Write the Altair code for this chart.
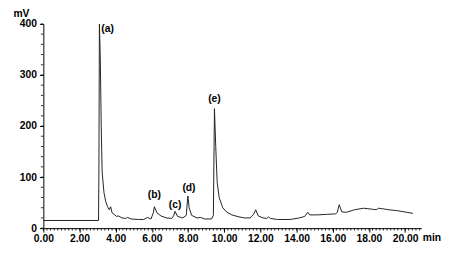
import altair as alt
import pandas as pd

# chromatogram trace (time in min, signal in mV)
time = [0.0, 3.05, 3.07, 3.10, 3.15, 3.20, 3.25, 3.35, 3.45, 3.55, 3.65, 3.72, 3.8, 3.95, 4.05, 4.15, 4.35,
        4.55, 4.65, 4.85, 5.25, 5.55, 5.75, 5.95, 6.08, 6.14, 6.28, 6.5, 6.8, 7.1, 7.2, 7.28, 7.42, 7.7,
        7.9, 7.99, 8.06, 8.2, 8.5, 8.7, 8.9, 9.3, 9.4, 9.46, 9.53, 9.61, 9.72, 9.92, 10.12, 10.42,
        10.82, 11.12, 11.42, 11.52, 11.62, 11.74, 11.88, 12.15, 12.35, 12.45, 12.55, 12.95, 13.65, 14.15,
        14.45, 14.62, 14.72, 15.15, 15.65, 16.15, 16.25, 16.36, 16.5, 16.75, 17.2, 17.7, 18.2, 18.4,
        18.53, 18.75, 19.1, 19.6, 20.1, 20.43]
signal = [15, 15, 100, 400, 330, 200, 110, 70, 52, 42, 36, 42, 30, 26, 23, 24, 20,
          19, 21, 18, 17, 17, 21, 18, 30, 42, 30, 24, 20, 19, 24, 33, 23, 20,
          25, 63, 40, 25, 20, 21, 18, 18, 25, 234, 160, 90, 60, 40, 32, 26,
          22, 20, 20, 23, 27, 36, 24, 20, 19, 22, 19, 17, 17, 20,
          23, 31, 26, 26, 27, 28, 31, 46, 32, 31, 36, 39, 37, 36,
          39, 38, 36, 34, 31, 29]

# peak labels
peak_labels = ["(a)", "(b)", "(c)", "(d)", "(e)"]
peak_time = [3.55, 6.14, 7.28, 8.05, 9.46]
peak_y = [390, 65, 46, 79, 252]

x_ticks = [0, 2, 4, 6, 8, 10, 12, 14, 16, 18, 20]
y_ticks = [0, 100, 200, 300, 400]
x_minor = [round(i * 0.2, 1) for i in range(0, 105)]
y_minor = [i * 20 for i in range(0, 21)]

W, H = 385, 208
FONT = "Liberation Sans"

trace = pd.DataFrame({"t": time, "mv": signal})
labels = pd.DataFrame({"lab": peak_labels, "t": peak_time, "mv": peak_y})
xm = pd.DataFrame({"t": x_minor})
ym = pd.DataFrame({"mv": y_minor})

xscale = alt.Scale(domain=[0, 20.9], nice=False, zero=False)
yscale = alt.Scale(domain=[0, 400], nice=False)

xaxis = alt.Axis(values=x_ticks, format=".2f", title="min", grid=False,
                 labelOverlap=False, labelFlush=False, labelBound=False,
                 domainColor="black", tickColor="black", tickSize=4,
                 labelFont=FONT, labelFontWeight="bold", labelFontSize=10.5,
                 labelColor="black", labelPadding=2,
                 titleFont=FONT, titleFontWeight="bold", titleFontSize=10.5,
                 titleAlign="left", titleBaseline="top", titleX=386, titleY=5,
                 titleColor="black")
yaxis = alt.Axis(values=y_ticks, title="mV", grid=False,
                 labelOverlap=False, labelFlush=False,
                 domainColor="black", tickColor="black", tickSize=4,
                 labelFont=FONT, labelFontWeight="bold", labelFontSize=10.5,
                 labelColor="black", labelPadding=3,
                 titleFont=FONT, titleFontWeight="bold", titleFontSize=10.5,
                 titleAngle=0, titleAlign="left", titleBaseline="bottom",
                 titleX=-31, titleY=-6, titleColor="black")

line = alt.Chart(trace).mark_line(color="#222222", strokeWidth=1, clip=True).encode(
    x=alt.X("t:Q", scale=xscale, axis=xaxis, title="min"),
    y=alt.Y("mv:Q", scale=yscale, axis=yaxis, title="mV"),
)

xminor = alt.Chart(xm).mark_rule(color="black", strokeWidth=0.8).encode(
    x=alt.X("t:Q", scale=xscale, axis=xaxis, title="min"),
    y=alt.value(H),
    y2=alt.value(H + 2.5),
)

yminor = alt.Chart(ym).mark_rule(color="black", strokeWidth=0.8).encode(
    y=alt.Y("mv:Q", scale=yscale, axis=yaxis, title="mV"),
    x=alt.value(0),
    x2=alt.value(-2.5),
)

text = alt.Chart(labels).mark_text(font=FONT, fontWeight="bold", fontSize=10.5,
                                   color="black").encode(
    x=alt.X("t:Q", scale=xscale, axis=xaxis, title="min"),
    y=alt.Y("mv:Q", scale=yscale, axis=yaxis, title="mV"),
    text="lab:N",
)

chart = alt.layer(line, xminor, yminor, text).properties(
    width=W, height=H,
    autosize=alt.AutoSizeParams(type="none"),
    padding={"left": 36, "top": 14, "right": 21, "bottom": 18},
    background="white",
).configure_view(stroke=None)

chart.save("out.html", embed_options={"renderer": "svg", "actions": False})
